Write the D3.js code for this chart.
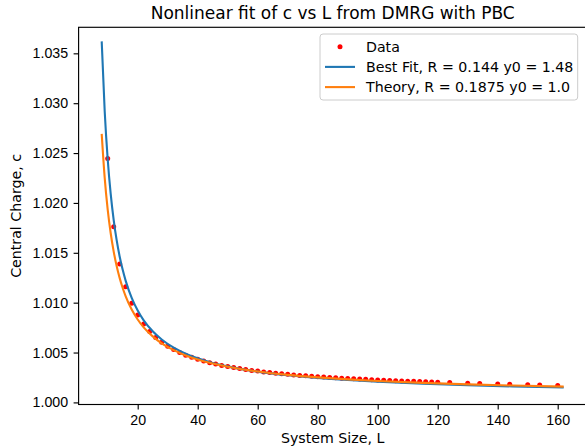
<!DOCTYPE html>
<html lang="en">
<head>
<meta charset="UTF-8">
<title>Nonlinear fit of c vs L from DMRG with PBC</title>
<script src="https://d3js.org/d3.v7.min.js"></script>
<style>
  body { margin: 0; background: #fff; }
  svg { display: block; font-family: "DejaVu Sans", sans-serif; }
  .tick text { font-size: 14.2px; fill: #000; }
  .tick line { stroke: #000; stroke-width: 1.14; }
  .domain { display: none; }
</style>
</head>
<body>
<svg id="chart" width="585" height="447"></svg>
<script>
// measured points (system size L, central charge c)
const dataL = [10, 12, 14, 16, 18, 20, 22, 24, 26, 28, 30, 32, 34, 36, 38, 40, 42, 44, 46, 48,
  50, 52, 54, 56, 58, 60, 62, 64, 66, 68, 70, 72, 74, 76, 78, 80, 82, 84, 86, 88,
  90, 92, 94, 96, 98, 100, 102, 104, 106, 108, 110, 112, 114, 116, 118, 120,
  124, 130, 134, 140, 144, 150, 154, 160];
const dataC = [1.02446, 1.01762, 1.01387, 1.01159, 1.00994, 1.00876, 1.00786, 1.00712, 1.00652, 1.00604,
  1.00564, 1.00530, 1.00500, 1.00474, 1.00452, 1.00432, 1.00414, 1.00398, 1.00384, 1.00371,
  1.00359, 1.00349, 1.00339, 1.00330, 1.00321, 1.00314, 1.00306, 1.00300, 1.00293, 1.00287,
  1.00282, 1.00276, 1.00271, 1.00267, 1.00262, 1.00258, 1.00254, 1.00250, 1.00247, 1.00243,
  1.00240, 1.00237, 1.00234, 1.00231, 1.00228, 1.00225, 1.00223, 1.00220, 1.00218, 1.00215,
  1.00213, 1.00211, 1.00209, 1.00206, 1.00204, 1.00202,
  1.00199, 1.00193, 1.00189, 1.00184, 1.00181, 1.00177, 1.00174, 1.00170];

// curves
const curveL = [8, 9, 10, 11, 12, 13, 14, 15, 16, 18, 20, 22, 25, 28, 32, 36, 40, 45, 50,
  60, 70, 80, 90, 100, 115, 130, 145, 162];
const fitC = [1.03620, 1.02920, 1.02438, 1.02090, 1.01828, 1.01624, 1.01461, 1.01329, 1.01219, 1.01048,
  1.00921, 1.00823, 1.00713, 1.00631, 1.00549, 1.00489, 1.00442, 1.00396, 1.00361,
  1.00309, 1.00272, 1.00245, 1.00224, 1.00207, 1.00188, 1.00172, 1.00160, 1.00149];
const theoryC = [1.02693, 1.02251, 1.01933, 1.01696, 1.01512, 1.01365, 1.01246, 1.01147, 1.01064, 1.00931,
  1.00831, 1.00752, 1.00662, 1.00593, 1.00524, 1.00471, 1.00430, 1.00390, 1.00358,
  1.00310, 1.00276, 1.00251, 1.00231, 1.00215, 1.00196, 1.00181, 1.00169, 1.00158];

const xTicks = [20, 40, 60, 80, 100, 120, 140, 160];
const yTicks = [1.000, 1.005, 1.010, 1.015, 1.020, 1.025, 1.030, 1.035];
const legendLabels = ["Data", "Best Fit, R = 0.144 y0 = 1.48", "Theory, R = 0.1875 y0 = 1.0"];

const blue = "#1f77b4", orange = "#ff7f0e";
const axLeft = 78.6, axRight = 586.8, axTop = 27.3, axBottom = 404.5;
const fs = "14.2px";

const svg = d3.select("#chart");
const x = d3.scaleLinear().domain([0.3, 169.7]).range([axLeft, axRight]);
const y = d3.scaleLinear().domain([0.99979, 1.03761]).range([axBottom, axTop]);

// axes
svg.append("g")
    .attr("transform", `translate(0,${axBottom})`)
    .call(d3.axisBottom(x).tickValues(xTicks).tickSize(5).tickPadding(5.5).tickSizeOuter(0));
svg.append("g")
    .attr("transform", `translate(${axLeft},0)`)
    .call(d3.axisLeft(y).tickValues(yTicks).tickFormat(d3.format(".3f")).tickSize(5).tickPadding(5.5).tickSizeOuter(0));

// data points first, lines go on top
svg.append("g").selectAll("circle")
    .data(dataL)
    .join("circle")
    .attr("cx", d => x(d))
    .attr("cy", (d, i) => y(dataC[i]))
    .attr("r", 2.5)
    .attr("fill", "#ff0000");

const line = d3.line()
    .x(d => x(d[0]))
    .y(d => y(d[1]))
    .curve(d3.curveMonotoneX);

svg.append("path")
    .datum(curveL.map((L, i) => [L, fitC[i]]))
    .attr("d", line)
    .attr("fill", "none")
    .attr("stroke", blue)
    .attr("stroke-width", 2.1);
svg.append("path")
    .datum(curveL.map((L, i) => [L, theoryC[i]]))
    .attr("d", line)
    .attr("fill", "none")
    .attr("stroke", orange)
    .attr("stroke-width", 2.1);

// frame
svg.append("rect")
    .attr("x", axLeft).attr("y", axTop)
    .attr("width", axRight - axLeft).attr("height", axBottom - axTop)
    .attr("fill", "none")
    .attr("stroke", "#000")
    .attr("stroke-width", 1.14);

// title and axis labels
svg.append("text")
    .attr("x", (axLeft + axRight) / 2).attr("y", 19)
    .attr("text-anchor", "middle")
    .style("font-size", "17px")
    .text("Nonlinear fit of c vs L from DMRG with PBC");
svg.append("text")
    .attr("x", (axLeft + axRight) / 2).attr("y", 443)
    .attr("text-anchor", "middle")
    .style("font-size", fs)
    .text("System Size, L");
svg.append("text")
    .attr("transform", `translate(20.5,${(axTop + axBottom) / 2}) rotate(-90)`)
    .attr("text-anchor", "middle")
    .style("font-size", fs)
    .text("Central Charge, c");

// legend
const lg = svg.append("g").attr("transform", "translate(320,34)");
lg.append("rect")
    .attr("width", 257.7).attr("height", 66)
    .attr("rx", 3)
    .attr("fill", "#fff").attr("fill-opacity", 0.8)
    .attr("stroke", "#ccc").attr("stroke-width", 1);
const rows = lg.selectAll("g.row")
    .data(legendLabels)
    .join("g")
    .attr("class", "row")
    .attr("transform", (d, i) => `translate(0,${12.7 + i * 20.2})`);
rows.each(function (d, i) {
    const r = d3.select(this);
    if (i === 0) {
        r.append("circle").attr("cx", 20).attr("cy", 0).attr("r", 2.5).attr("fill", "#ff0000");
    } else {
        r.append("line").attr("x1", 5).attr("x2", 35).attr("y1", 0).attr("y2", 0)
            .attr("stroke", i === 1 ? blue : orange).attr("stroke-width", 2.1);
    }
    r.append("text")
        .attr("x", 46).attr("dy", "0.35em")
        .style("font-size", fs)
        .text(d);
});
</script>
</body>
</html>
